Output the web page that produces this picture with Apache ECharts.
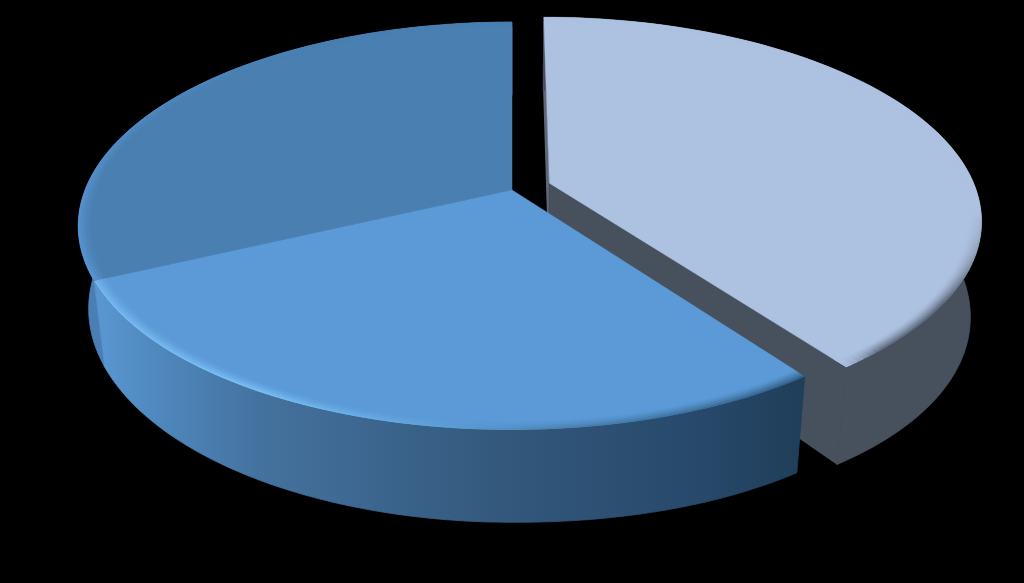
<!DOCTYPE html>
<html>
<head>
<meta charset="utf-8">
<style>html,body{margin:0;padding:0;background:#000;overflow:hidden}#c{width:1024px;height:583px}</style>
<script src="https://cdn.jsdelivr.net/npm/echarts@6/dist/echarts.min.js"></script>
</head>
<body>
<div id="c"></div>
<script>
// Data: shares, clockwise from twelve o'clock
const sliceNames = ['Slice 1', 'Slice 2', 'Slice 3'];
const sliceValues = [40, 28, 32];

// Projection of the tilted disc
const view = { cx: 512, cy: 190, rx: 427, ry: 197.6, k: 0.1765, m: 0.024, depth: 84, tilt: 0.14 };
const explode = [[0.088, -0.035], [0, 0], [0, 0]];
const drawOrder = [0, 2, 1];

// Styles per slice; stops are [angle in degrees, colour]
const sliceStyles = [
  { top: '#adc1e0', cut: '#47515e', cutBack: '#5d6877',
    wall: [[0, '#47515e'], [144, '#47515e']],
    rim: [[0, '#adc1e0'], [98, '#adc1e0'], [110, '#8d9cb4'], [124, '#535e6f'], [138, '#586377'], [144, '#adc1e0']] },
  { top: '#5b9ad6',
    wall: [[144, '#1f3e58'], [158, '#27486a'], [181, '#33587c'], [210, '#44729e'], [225, '#4e86bb'], [245, '#5a97d2']],
    rim: [[144, '#2f5a80'], [158, '#3a6a95'], [175, '#4a80b0'], [190, '#62a4de'], [210, '#7cc2f8'], [245, '#78b8f0']] },
  { top: '#4a7fb1',
    wall: [[245, '#4a7fb6'], [360, '#4a7fb6']],
    rim: [[245, '#5a97d4'], [270, '#5691cc'], [300, '#4f88bf'], [330, '#4a7fb1'], [360, '#4a7fb1']] }
];

function hexRgb(h) { return [1, 3, 5].map(i => parseInt(h.substr(i, 2), 16)); }
function mix(a, b, t) {
  const A = hexRgb(a), B = hexRgb(b);
  return '#' + A.map((x, i) => Math.round(x + (B[i] - x) * t).toString(16).padStart(2, '0')).join('');
}
function stopColor(stops, deg) {
  for (let i = 1; i < stops.length; i++) {
    if (deg <= stops[i][0]) {
      const t = (deg - stops[i - 1][0]) / (stops[i][0] - stops[i - 1][0]);
      return mix(stops[i - 1][1], stops[i][1], Math.max(0, Math.min(1, t)));
    }
  }
  return stops[stops.length - 1][1];
}
function project(off, deg, r, z) {
  const a = deg * Math.PI / 180;
  const u = off[0] + r * Math.sin(a), v = off[1] - r * Math.cos(a);
  const w = 1 - view.k * v + view.m * z;
  const d = view.depth * z * (1 + view.tilt * Math.pow(Math.max(0, u), 1.5));
  return [view.cx + view.rx * u / w, view.cy + (view.ry * v + d) / w];
}
function poly(points, fill, lineWidth) {
  const style = { fill };
  if (lineWidth) { style.stroke = fill; style.lineWidth = lineWidth; }
  return { type: 'polygon', shape: { points }, style, silent: true };
}

// Cumulative angles from the values
const total = sliceValues.reduce((a, b) => a + b, 0);
let acc = 0;
const bounds = sliceValues.map(v => { const s = acc; acc += v; return [s / total * 360, acc / total * 360]; });
const rows = drawOrder.map(i => [i, bounds[i][0], bounds[i][1], sliceValues[i]]);

const STEP = 1, RIM_IN = 0.968, RIM_BANDS = 6;
function wallFill(off, stops) {
  const xs = stops.map(s => project(off, s[0], 1, 0)[0]);
  const x0 = Math.min(...xs), x1 = Math.max(...xs);
  if (x1 - x0 < 1 || new Set(stops.map(s => s[1])).size === 1) return stops[0][1];
  const colorStops = stops.map((s, i) => ({ offset: (xs[i] - x0) / (x1 - x0), color: s[1] }))
    .sort((a, b) => a.offset - b.offset);
  return new echarts.graphic.LinearGradient(x0, 0, x1, 0, colorStops, true);
}
function renderSlice(params, api) {
  const idx = api.value(0), s = api.value(1), e = api.value(2);
  const off = explode[idx], st = sliceStyles[idx], kids = [];
  const n = Math.ceil((e - s) / STEP), ang = i => s + (e - s) * i / n;
  const a0 = [0, 1].map(z => project(off, 0, 0, z));
  if (st.cut) kids.push(poly([a0[0], project(off, s, 1, 0), project(off, s, 1, 1), a0[1]], st.cutBack));
  const topArc = [], botArc = [];
  for (let i = 0; i <= n; i++) { topArc.push(project(off, ang(i), 1, 0)); botArc.unshift(project(off, ang(i), 1, 1)); }
  kids.push(poly(topArc.concat(botArc), wallFill(off, st.wall), 0.8));
  if (st.cut) kids.push(poly([a0[0], project(off, e, 1, 0), project(off, e, 1, 1), a0[1]], st.cut, 0.8));
  // Bevel, outer band first; every facet overlaps the next so no seams show
  for (let j = RIM_BANDS - 1; j >= 0; j--) {
    const r0 = RIM_IN + (1 - RIM_IN) * j / RIM_BANDS - 0.004, r1 = RIM_IN + (1 - RIM_IN) * (j + 1) / RIM_BANDS;
    const t = Math.pow((j + 0.5) / RIM_BANDS, 1.4);
    for (let i = 0; i < n; i++) {
      const a = ang(i), b = Math.min(e, ang(i + 2));
      const c = stopColor(st.rim, (ang(i) + ang(i + 1)) / 2);
      kids.push(poly([project(off, a, r0, 0), project(off, b, r0, 0), project(off, b, r1, 0), project(off, a, r1, 0)],
        mix(st.top, c, t)));
    }
  }
  const arc = [project(off, 0, 0, 0)];
  for (let i = 0; i <= n; i++) arc.push(project(off, ang(i), RIM_IN, 0));
  kids.push(poly(arc, st.top, 0.5));
  return { type: 'group', children: kids };
}

const chart = echarts.init(document.getElementById('c'), null, { renderer: 'canvas' });
chart.setOption({
  backgroundColor: '#000000',
  animation: false,
  series: [{
    type: 'custom',
    coordinateSystem: 'none',
    renderItem: renderSlice,
    data: rows,
    silent: true
  }]
});
</script>
</body>
</html>
